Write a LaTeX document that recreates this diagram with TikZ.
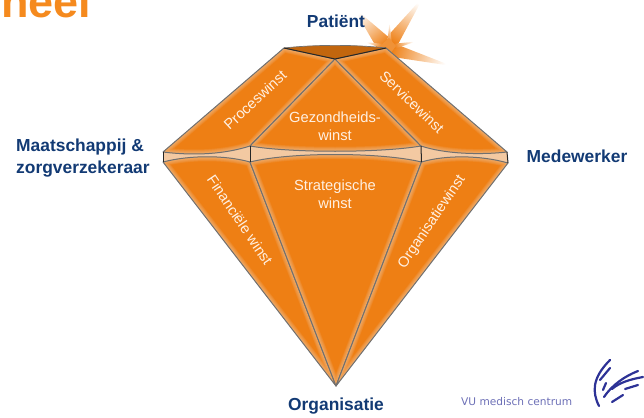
\documentclass[tikz,border=0pt]{standalone}
\usepackage{fontspec}
\setmainfont{Liberation Sans}
\newfontfamily\vufont{DejaVu Sans}
\definecolor{gemorange}{RGB}{238,127,20}
\definecolor{gempale}{RGB}{243,201,162}
\definecolor{gembrown}{RGB}{194,102,14}
\definecolor{gemline}{RGB}{112,112,112}
\definecolor{navylabel}{RGB}{18,58,116}
\definecolor{titleorange}{RGB}{245,138,30}
\definecolor{vublue}{RGB}{45,50,150}
\definecolor{facettext}{RGB}{255,240,226}
\tikzset{
  facetedge/.style={draw=gemline,line width=1pt,line join=round},
  darkedge/.style={draw=black!85,line width=1pt},
  outerlabel/.style={text=navylabel,font=\fontsize{17.4}{22}\selectfont\bfseries,inner sep=0pt},
  facetlabel/.style={text=facettext,font=\fontsize{14.7}{18}\selectfont,inner sep=0pt,align=center},
  vustroke/.style={draw=vublue,line width=2.2pt,line cap=round},
  rayfade/.style={bottom color=gemorange,top color=white},
}
\newcommand{\gemfacet}[1]{%
  \begin{scope}
    \clip #1;
    \fill[gemorange] #1;
    \foreach \w in {9,7.5,6,4.5,3,2}{\draw[gempale,opacity=.13,line width=\w pt] #1;}
  \end{scope}
  \draw[facetedge] #1;
}
\begin{document}
\begin{tikzpicture}[x=1pt,y=-1pt]
\useasboundingbox (0,0) rectangle (644,417);
\clip (0,0) rectangle (644,417);
% corners
\coordinate (tl) at (284,48);
\coordinate (tr) at (386,48);
\coordinate (tm) at (335,59);
\coordinate (lu) at (163,152);
\coordinate (ld) at (163,162);
\coordinate (ilu) at (250,146);
\coordinate (ild) at (250,162);
\coordinate (iru) at (421,146);
\coordinate (ird) at (421.5,162);
\coordinate (ru) at (507,152);
\coordinate (rd) at (508,163);
\coordinate (bt) at (336,386);
% title fragment
\node[anchor=base west,inner sep=0pt,text=titleorange,font=\fontsize{45}{45}\selectfont\bfseries] (title) at (1,18) {neel};
% sparkle
\shade[rayfade,shading angle=-33] (384,40) -- (424,-4) -- (396,48) -- cycle;
\shade[rayfade,shading angle=-107] (393,43) -- (452,66) -- (386,56) -- cycle;
\shade[rayfade,shading angle=40] (392,40) -- (353,7) -- (378,50) -- cycle;
\shade[rayfade,shading angle=0] (387,44) -- (389.5,23) -- (392,44) -- cycle;
\shade[rayfade,shading angle=-70] (392,44) -- (416,41.5) -- (394,49) -- cycle;
\shade[rayfade,shading angle=70] (384,44) -- (364,42) -- (384,49) -- cycle;
\fill[gemorange!85!white] (380,46) -- (389,38) -- (396,46) -- (390,54) -- cycle;
% bands
\fill[gempale] (lu) .. controls (195,156) and (225,154) .. (ilu) -- (ild) .. controls (225,155) and (190,155) .. (ld) -- cycle;
\fill[gempale] (ilu) .. controls (290,153) and (380,153) .. (iru) -- (ird) .. controls (380,152) and (290,152) .. (ild) -- cycle;
\fill[gempale] (iru) .. controls (445,154) and (480,155) .. (ru) -- (rd) .. controls (480,155) and (445,155) .. (ird) -- cycle;
% upper facets
\gemfacet{(tl) -- (tm) -- (ilu) .. controls (225,154) and (195,156) .. (lu) -- cycle}
\gemfacet{(tm) -- (iru) .. controls (380,153) and (290,153) .. (ilu) -- cycle}
\gemfacet{(tr) -- (ru) .. controls (480,155) and (445,154) .. (iru) -- (tm) -- cycle}
% lower facets
\gemfacet{(ld) .. controls (190,155) and (225,155) .. (ild) -- (bt) -- cycle}
\gemfacet{(ild) .. controls (290,152) and (380,152) .. (ird) -- (bt) -- cycle}
\gemfacet{(ird) .. controls (445,155) and (480,155) .. (rd) -- (bt) -- cycle}
% table of the gem
\fill[gembrown] (tl) .. controls (315,44.5) and (355,44.5) .. (tr) -- (tm) -- cycle;
\draw[gemline,line width=0.7pt] (tl) .. controls (315,44.5) and (355,44.5) .. (tr);
\draw[darkedge] (tl) -- (tm) -- (tr);
% verticals
\draw[darkedge] (lu) -- (ld);
\draw[darkedge] (ilu) -- (ild);
\draw[darkedge] (iru) -- (ird);
\draw[darkedge] (ru) -- (rd);
% facet labels
\node[facetlabel,rotate=43] (proces) at (255,100) {Proceswinst};
\node[facetlabel,rotate=-44] (service) at (412,102) {Servicewinst};
\node[facetlabel] (gezond) at (335,126) {Gezondheids-\\winst};
\node[facetlabel] (strat) at (335,194) {Strategische\\winst};
\node[facetlabel,rotate=-56] (fin) at (240,220) {Financiële winst};
\node[facetlabel,rotate=56] (org) at (432,222) {Organisatiewinst};
% outer labels
\node[outerlabel] (pat) at (336,21) {Patiënt};
\node[outerlabel,align=left,anchor=west] (maat) at (16,158.5) {Maatschappij \&\\zorgverzekeraar};
\node[outerlabel] (med) at (577,156) {Medewerker};
\node[outerlabel] (orga) at (336,406) {Organisatie};
% logo
\node[anchor=west,inner sep=0pt,text=vublue!70!white,font=\fontsize{10.6}{11}\selectfont\vufont] (vu) at (461,402) {VU medisch centrum};
\draw[vustroke] (599,406) .. controls (592,392) and (592,378) .. (610,360);
\draw[vustroke] (600,380) -- (610,368);
\draw[vustroke] (603,390) -- (606,383);
\draw[vustroke] (604,397) .. controls (612,385) and (625,376) .. (638,371);
\draw[vustroke] (612,389) .. controls (620,382) and (632,379) .. (643,377);
\draw[vustroke] (625,389) -- (638,385);
\draw[vustroke] (612,402) -- (623,395);
\end{tikzpicture}
\end{document}
